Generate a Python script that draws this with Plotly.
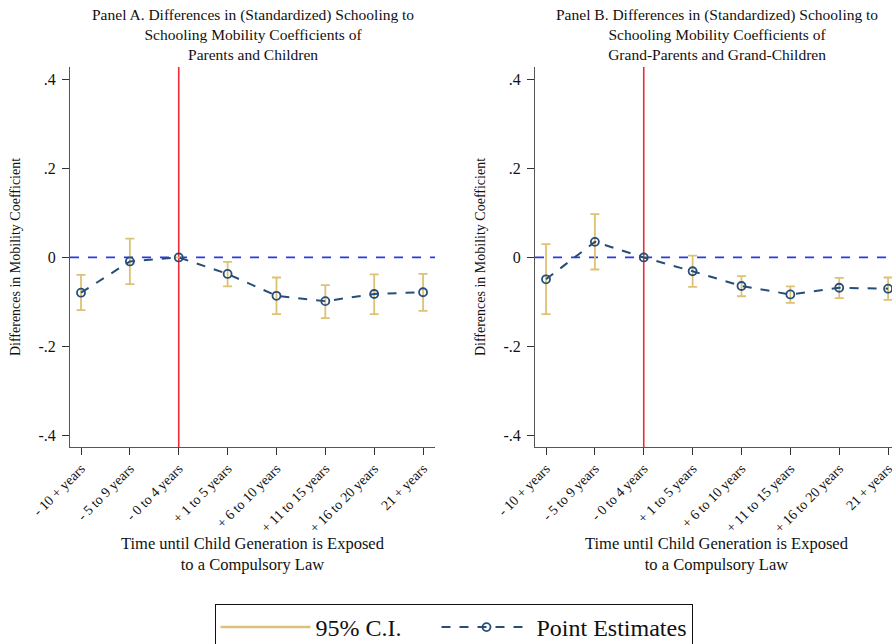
import plotly.graph_objects as go

categories = ["- 10 + years", "- 5 to 9 years", "- 0 to 4 years", "+ 1 to 5 years",
              "+ 6 to 10 years", "+ 11 to 15 years", "+ 16 to 20 years", "21 + years"]

# Panel A: parents and children
a_est = [-0.079, -0.009, 0.0, -0.037, -0.086, -0.098, -0.082, -0.078]
a_hi = [-0.039, 0.042, 0.0, -0.010, -0.045, -0.062, -0.038, -0.037]
a_lo = [-0.118, -0.060, 0.0, -0.065, -0.127, -0.136, -0.127, -0.120]

# Panel B: grand-parents and grand-children
b_est = [-0.049, 0.035, 0.0, -0.031, -0.064, -0.083, -0.068, -0.070]
b_hi = [0.030, 0.097, 0.0, 0.004, -0.042, -0.065, -0.046, -0.045]
b_lo = [-0.127, -0.027, 0.0, -0.066, -0.087, -0.102, -0.091, -0.095]

ytick_vals = [-0.4, -0.2, 0, 0.2, 0.4]
ytick_text = ["-.4", "-.2", "0", ".2", ".4"]

titles = ["Panel A. Differences in (Standardized) Schooling to<br>Schooling Mobility Coefficients of<br>Parents and Children",
          "Panel B. Differences in (Standardized) Schooling to<br>Schooling Mobility Coefficients of<br>Grand-Parents and Grand-Children"]
xtitle = "Time until Child Generation is Exposed<br>to a Compulsory Law"
ytitle = "Differences in Mobility Coefficient"

FONT = "Liberation Serif"
CI_COLOR = "#DDC276"
PT_COLOR = "#264E78"

W, H = 892, 644
MT, MB = 67, 197
PH = H - MT - MB


def py_to_paper(py):
    return (H - MB - py) / PH


fig = go.Figure()

for i, (est, hi, lo) in enumerate([(a_est, a_hi, a_lo), (b_est, b_hi, b_lo)]):
    xa = "x" if i == 0 else "x2"
    ya = "y" if i == 0 else "y2"
    fig.add_trace(go.Scatter(
        x=categories, y=est, xaxis=xa, yaxis=ya, mode="markers",
        marker=dict(size=1, opacity=0),
        error_y=dict(type="data", symmetric=False,
                     array=[h - e for h, e in zip(hi, est)],
                     arrayminus=[e - l for e, l in zip(est, lo)],
                     color=CI_COLOR, thickness=1.8, width=4.5),
        showlegend=False, hoverinfo="skip"))
    fig.add_trace(go.Scatter(
        x=categories, y=est, xaxis=xa, yaxis=ya, mode="lines+markers",
        line=dict(color=PT_COLOR, width=2, dash="dash"),
        marker=dict(symbol="circle-open", size=8, color=PT_COLOR, line=dict(width=1.8)),
        name="Point Estimates", showlegend=(i == 0)))
    fig.add_shape(type="line", xref=xa + " domain", yref=ya,
                  x0=0, x1=1, y0=0, y1=0, layer="below",
                  line=dict(color="#2A3BE6", width=1.8, dash="dash"))
    fig.add_shape(type="line", xref=xa, yref=ya + " domain",
                  x0=2, x1=2, y0=0, y1=1, layer="below",
                  line=dict(color="#F02A3A", width=1.6))

fig.add_trace(go.Scatter(x=[None], y=[None], mode="lines",
                         line=dict(color=CI_COLOR, width=2.5),
                         name="95% C.I.     ", showlegend=True))

axis_common = dict(showgrid=False, zeroline=False, showline=True, linecolor="#555555",
                   linewidth=1, ticks="outside", ticklen=7, tickcolor="#333333",
                   automargin=False)

annotations = []
for c, txt in zip([252.5 / W, 717 / W], titles):
    annotations.append(dict(text=txt, x=c, y=py_to_paper(35), xref="paper", yref="paper",
                            xanchor="center", yanchor="middle", showarrow=False,
                            font=dict(size=15.5), align="center"))
for c in [252.5 / W, 717 / W]:
    annotations.append(dict(text=xtitle, x=c, y=py_to_paper(554), xref="paper", yref="paper",
                            xanchor="center", yanchor="middle", showarrow=False,
                            font=dict(size=16.5), align="center"))

fig.update_layout(
    width=W, height=H,
    margin=dict(l=0, r=0, t=MT, b=MB, autoexpand=False),
    plot_bgcolor="white", paper_bgcolor="white",
    font=dict(family=FONT, color="#111111"),
    xaxis=dict(domain=[0.0785, 0.4877], type="category", range=[-0.225, 7.245],
               tickangle=-45, tickfont=dict(size=14), anchor="y", **axis_common),
    yaxis=dict(domain=[0, 1], range=[-0.425, 0.427], tickvals=ytick_vals, ticktext=ytick_text,
               tickfont=dict(size=16), ticklabelstandoff=3,
               title=dict(text=ytitle, font=dict(size=14), standoff=14),
               anchor="x", **axis_common),
    xaxis2=dict(domain=[0.5998, 1.0], type="category", range=[-0.225, 7.08],
                tickangle=-45, tickfont=dict(size=14), anchor="y2", **axis_common),
    yaxis2=dict(domain=[0, 1], range=[-0.425, 0.427], tickvals=ytick_vals, ticktext=ytick_text,
                tickfont=dict(size=16), ticklabelstandoff=3,
                title=dict(text=ytitle, font=dict(size=14), standoff=14),
                anchor="x2", **axis_common),
    legend=dict(orientation="h", x=453.5 / W, xanchor="center", y=py_to_paper(604), yanchor="top",
                bordercolor="#111111", borderwidth=1, font=dict(size=24),
                itemwidth=90, traceorder="reversed"),
    annotations=annotations,
)

fig.write_html("out.html")
